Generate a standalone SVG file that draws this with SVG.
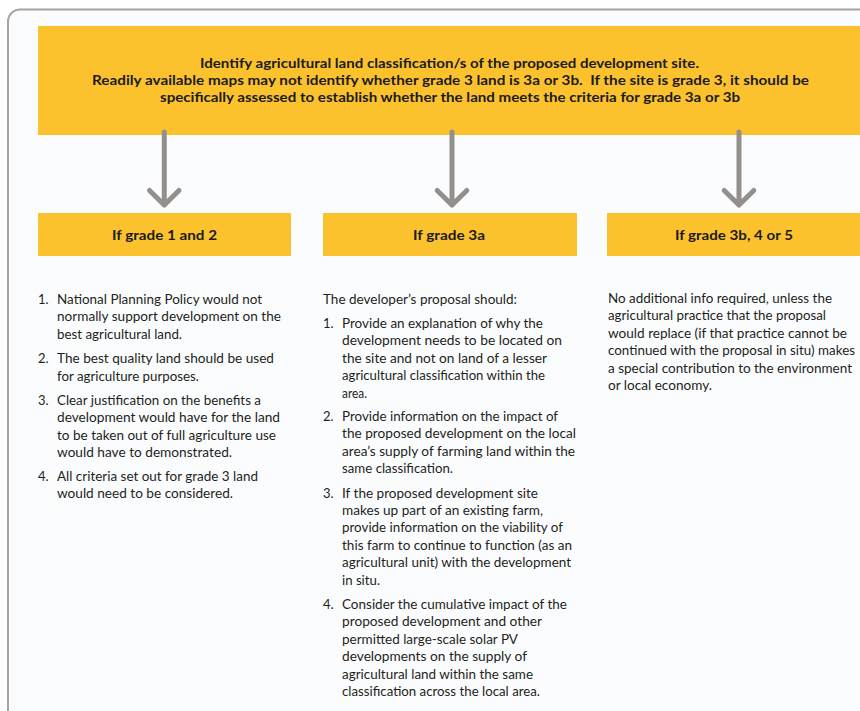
<svg xmlns="http://www.w3.org/2000/svg" width="860" height="711" viewBox="0 0 860 711">
  <style>
    .frame { fill: #fbfcfe; stroke: #a7a3a1; stroke-width: 2; }
    .band { fill: #fcc22d; }
    .title { font-family: Lato, "Open Sans", "Liberation Sans", sans-serif; font-weight: 700; font-size: 14px; fill: #1b1b1b; }
    .head { font-family: Lato, "Open Sans", "Liberation Sans", sans-serif; font-weight: 700; font-size: 14px; fill: #1b1b1b; text-anchor: middle; }
    .body { font-family: Lato, "Open Sans", "Liberation Sans", sans-serif; font-weight: 400; font-size: 13px; fill: #231f20; }
    .arrow { fill: none; stroke: #948f8c; stroke-width: 5; stroke-linecap: round; stroke-linejoin: round; }
  </style>

  <!-- page frame -->
  <rect class="frame" x="8" y="9.5" width="880" height="740" rx="12" ry="12"/>

  <!-- top decision band -->
  <g id="identify-classification">
    <rect class="band" x="38" y="26" width="822" height="109"/>
    <text class="title" x="200" y="68" textLength="499" lengthAdjust="spacingAndGlyphs">Identify agricultural land classification/s of the proposed development site.</text>
    <text class="title" x="92" y="85" textLength="717" lengthAdjust="spacingAndGlyphs" xml:space="preserve">Readily available maps may not identify whether grade 3 land is 3a or 3b.  If the site is grade 3, it should be</text>
    <text class="title" x="160" y="101.5" textLength="580" lengthAdjust="spacingAndGlyphs">specifically assessed to establish whether the land meets the criteria for grade 3a or 3b</text>
  </g>

  <!-- connectors -->
  <g id="connectors">
    <path class="arrow" d="M164.3 132 V205 M149.5 190.5 L164.3 205 L179 190.5"/>
    <path class="arrow" d="M452 132 V205 M437.2 190.5 L452 205 L466.8 190.5"/>
    <path class="arrow" d="M739 132 V205 M724.2 190.5 L739 205 L753.8 190.5"/>
  </g>

  <!-- grade 1 and 2 -->
  <g id="grade-1-2">
    <rect class="band" x="38" y="213" width="253" height="43"/>
    <text class="head" x="164.5" y="239.5" textLength="105" lengthAdjust="spacingAndGlyphs">If grade 1 and 2</text>
    <g class="body">
      <text x="38" y="304">1.</text>
      <text x="57" y="304" textLength="205" lengthAdjust="spacingAndGlyphs">National Planning Policy would not</text>
      <text x="57" y="321.4" textLength="224" lengthAdjust="spacingAndGlyphs">normally support development on the</text>
      <text x="57" y="338.8" textLength="125" lengthAdjust="spacingAndGlyphs">best agricultural land.</text>
      <text x="38" y="363.3">2.</text>
      <text x="57" y="363.3" textLength="217" lengthAdjust="spacingAndGlyphs">The best quality land should be used</text>
      <text x="57" y="380.7" textLength="142" lengthAdjust="spacingAndGlyphs">for agriculture purposes.</text>
      <text x="38" y="404.8">3.</text>
      <text x="57" y="404.8" textLength="204" lengthAdjust="spacingAndGlyphs">Clear justification on the benefits a</text>
      <text x="57" y="422.2" textLength="223" lengthAdjust="spacingAndGlyphs">development would have for the land</text>
      <text x="57" y="439.6" textLength="219" lengthAdjust="spacingAndGlyphs">to be taken out of full agriculture use</text>
      <text x="57" y="457" textLength="175" lengthAdjust="spacingAndGlyphs">would have to demonstrated.</text>
      <text x="38" y="481">4.</text>
      <text x="57" y="481" textLength="201" lengthAdjust="spacingAndGlyphs">All criteria set out for grade 3 land</text>
      <text x="57" y="498.4" textLength="176" lengthAdjust="spacingAndGlyphs">would need to be considered.</text>
    </g>
  </g>

  <!-- grade 3a -->
  <g id="grade-3a">
    <rect class="band" x="323" y="213" width="254" height="43"/>
    <text class="head" x="449" y="239.5" textLength="72" lengthAdjust="spacingAndGlyphs">If grade 3a</text>
    <g class="body">
      <text x="323" y="303.5" textLength="194" lengthAdjust="spacingAndGlyphs">The developer’s proposal should:</text>
      <text x="323" y="328">1.</text>
      <text x="342" y="328" textLength="201" lengthAdjust="spacingAndGlyphs">Provide an explanation of why the</text>
      <text x="342" y="345.4" textLength="220" lengthAdjust="spacingAndGlyphs">development needs to be located on</text>
      <text x="342" y="362.8" textLength="205" lengthAdjust="spacingAndGlyphs">the site and not on land of a lesser</text>
      <text x="342" y="380.2" textLength="203" lengthAdjust="spacingAndGlyphs">agricultural classification within the</text>
      <text x="342" y="397.6" textLength="25" lengthAdjust="spacingAndGlyphs">area.</text>
      <text x="323" y="421">2.</text>
      <text x="342" y="421" textLength="216" lengthAdjust="spacingAndGlyphs">Provide information on the impact of</text>
      <text x="342" y="438.4" textLength="234" lengthAdjust="spacingAndGlyphs">the proposed development on the local</text>
      <text x="342" y="455.8" textLength="233" lengthAdjust="spacingAndGlyphs">area’s supply of farming land within the</text>
      <text x="342" y="473.2" textLength="111" lengthAdjust="spacingAndGlyphs">same classification.</text>
      <text x="323" y="497.5">3.</text>
      <text x="342" y="497.5" textLength="196" lengthAdjust="spacingAndGlyphs">If the proposed development site</text>
      <text x="342" y="514.9" textLength="201" lengthAdjust="spacingAndGlyphs">makes up part of an existing farm,</text>
      <text x="342" y="532.3" textLength="221" lengthAdjust="spacingAndGlyphs">provide information on the viability of</text>
      <text x="342" y="549.7" textLength="230" lengthAdjust="spacingAndGlyphs">this farm to continue to function (as an</text>
      <text x="342" y="567.1" textLength="229" lengthAdjust="spacingAndGlyphs">agricultural unit) with the development</text>
      <text x="342" y="584.5" textLength="38" lengthAdjust="spacingAndGlyphs">in situ.</text>
      <text x="323" y="609">4.</text>
      <text x="342" y="609" textLength="225" lengthAdjust="spacingAndGlyphs">Consider the cumulative impact of the</text>
      <text x="342" y="626.4" textLength="200" lengthAdjust="spacingAndGlyphs">proposed development and other</text>
      <text x="342" y="643.8" textLength="176" lengthAdjust="spacingAndGlyphs">permitted large-scale solar PV</text>
      <text x="342" y="661.2" textLength="185" lengthAdjust="spacingAndGlyphs">developments on the supply of</text>
      <text x="342" y="678.6" textLength="191" lengthAdjust="spacingAndGlyphs">agricultural land within the same</text>
      <text x="342" y="696" textLength="198" lengthAdjust="spacingAndGlyphs">classification across the local area.</text>
    </g>
  </g>

  <!-- grade 3b, 4 or 5 -->
  <g id="grade-3b-4-5">
    <rect class="band" x="607" y="213" width="253" height="43"/>
    <text class="head" x="734" y="239.5" textLength="118" lengthAdjust="spacingAndGlyphs">If grade 3b, 4 or 5</text>
    <g class="body">
      <text x="608" y="303" textLength="224" lengthAdjust="spacingAndGlyphs">No additional info required, unless the</text>
      <text x="608" y="320.4" textLength="218" lengthAdjust="spacingAndGlyphs">agricultural practice that the proposal</text>
      <text x="608" y="337.8" textLength="239" lengthAdjust="spacingAndGlyphs">would replace (if that practice cannot be</text>
      <text x="608" y="355.2" textLength="247" lengthAdjust="spacingAndGlyphs">continued with the proposal in situ) makes</text>
      <text x="608" y="372.6" textLength="244" lengthAdjust="spacingAndGlyphs">a special contribution to the environment</text>
      <text x="608" y="390" textLength="104" lengthAdjust="spacingAndGlyphs">or local economy.</text>
    </g>
  </g>
</svg>
